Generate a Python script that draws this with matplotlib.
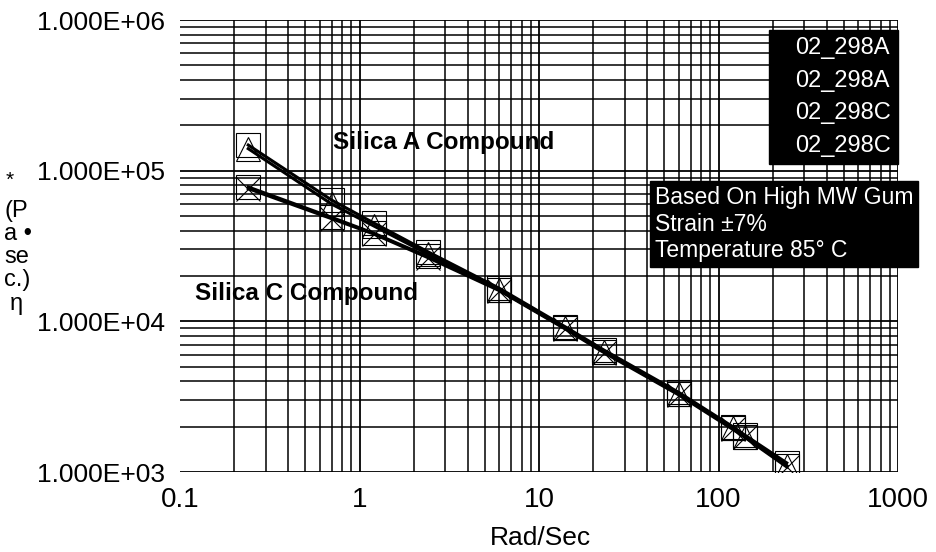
import numpy as np
import matplotlib
matplotlib.use("Agg")
import matplotlib.pyplot as plt
from matplotlib.ticker import FuncFormatter, LogLocator

plt.rcParams['font.family'] = ['Liberation Sans', 'DejaVu Sans']

# frequency (rad/s) and complex viscosity (Pa.s)
freq = [0.24, 0.7, 1.2, 2.4, 6.0, 14, 23, 60, 120, 140, 240]
eta_a1 = [148000, 63800, 45000, 29000, 16600, 9200, 6450, 3380, 2000, 1760, 1150]
eta_a2 = [140000, 60000, 43000, 28000, 16200, 9000, 6300, 3300, 1950, 1720, 1100]
eta_c1 = [78000, 49000, 38500, 27000, 16200, 9000, 6300, 3300, 1950, 1720, 1100]
eta_c2 = [76000, 48000, 38000, 26500, 16000, 8900, 6200, 3250, 1920, 1700, 1080]
labels = ["02_298A", "02_298A", "02_298C", "02_298C"]
markers = ['s', '^', 's', 'x']

fig = plt.figure(figsize=(9.37, 5.52), dpi=100)
ax = fig.add_axes([0.1921, 0.1449, 0.7663, 0.8188])

for ys, lab, mk in zip([eta_a1, eta_a2, eta_c1, eta_c2], labels, markers):
    ax.plot(freq, ys, '-', color='black', lw=2.2, marker=mk, ms=17,
            mfc='none', mec='black', mew=0.8, label=lab)

ax.set_xscale('log')
ax.set_yscale('log')
ax.set_xlim(0.1, 1000)
ax.set_ylim(1e3, 1e6)
ax.xaxis.set_major_locator(LogLocator(base=10, numticks=10))
ax.yaxis.set_major_locator(LogLocator(base=10, numticks=10))
ax.xaxis.set_minor_locator(LogLocator(base=10, subs=np.arange(2, 10), numticks=20))
ax.yaxis.set_minor_locator(LogLocator(base=10, subs=np.arange(2, 10), numticks=20))
ax.xaxis.set_major_formatter(FuncFormatter(lambda v, p: "%g" % v))
ax.yaxis.set_major_formatter(FuncFormatter(lambda v, p: "%.3E" % v))
ax.grid(True, which='major', color='black', lw=1.3)
ax.grid(True, which='minor', color='black', lw=1.1)
ax.tick_params(which='both', length=0)
ax.tick_params(axis='x', labelsize=20, pad=11)
ax.tick_params(axis='y', labelsize=19, pad=11)
for s in ax.spines.values():
    s.set_visible(False)

fig.text(540 / 937, 1 - 538 / 552, "Rad/Sec", fontsize=19, ha='center', va='center')

ax.text(0.213, 0.728, "Silica A Compound", transform=ax.transAxes,
        fontsize=17.5, fontweight='bold', va='center', ha='left')
ax.text(0.021, 0.396, "Silica C Compound", transform=ax.transAxes,
        fontsize=17.5, fontweight='bold', va='center', ha='left')

leg = ax.legend(loc='upper right', bbox_to_anchor=(1.0, 0.978), fontsize=17,
                facecolor='black', edgecolor='black', framealpha=1,
                labelcolor='white', handlelength=0.7, handletextpad=0.1,
                fancybox=False, labelspacing=0.45, borderpad=0.3,
                borderaxespad=0)
for h in leg.legend_handles:
    h.set_visible(False)

fig.text(655 / 937, 1 - 186 / 552,
         "Based On High MW Gum\nStrain \u00b17%\nTemperature 85\u00b0 C",
         fontsize=16.5, color='white', va='top', ha='left', linespacing=1.2,
         bbox=dict(boxstyle='square,pad=0.2', fc='black', ec='black'))

# y label, wrapped the way the scan shows it
fig.text(6 / 937, 1 - 171 / 552, "*", fontsize=15, va='top', ha='left')
fig.text(4 / 937, 1 - 200 / 552, "(P\na \u2022\nse\nc.)", fontsize=17,
         va='top', ha='left', linespacing=1.05)
fig.text(10 / 937, 1 - 304 / 552, "\u03b7", fontsize=17, va='center', ha='left')

# the scan has no vertical rule at the left edge (0.1)
fig.canvas.draw()
for tick in ax.xaxis.get_major_ticks():
    if tick.get_loc() is not None and tick.get_loc() <= 0.1:
        tick.gridline.set_visible(False)

fig.savefig("out.png", dpi=100)
